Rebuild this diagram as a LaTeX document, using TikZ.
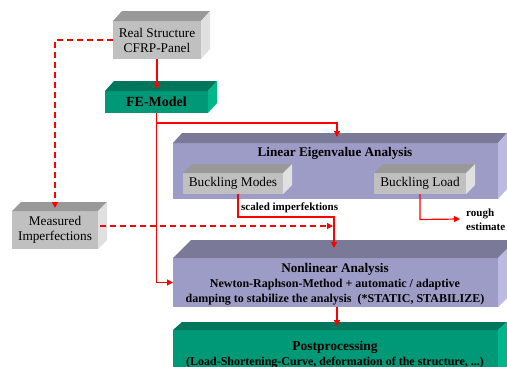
\documentclass[tikz,border=0pt]{standalone}
\usepackage{fontspec}
\setmainfont{Liberation Serif}
\usetikzlibrary{arrows.meta,calc}

\definecolor{grayfront}{RGB}{192,192,192}
\definecolor{graytop}{RGB}{153,153,153}
\definecolor{grayside}{RGB}{224,224,224}
\definecolor{greenfront}{RGB}{0,153,119}
\definecolor{greentop}{RGB}{0,118,92}
\definecolor{greenside}{RGB}{0,182,138}
\definecolor{lilafront}{RGB}{156,156,198}
\definecolor{lilatop}{RGB}{122,122,152}
\definecolor{lilaside}{RGB}{186,186,226}

% top and right face of a block: node, depth, top colour, side colour
\newcommand\blockfaces[4]{%
  \fill[#3] (#1.north west) -- ++(#2) -- ($(#1.north east)+(#2)$) -- (#1.north east) -- cycle;
  \fill[#4] (#1.north east) -- ++(#2) -- ($(#1.south east)+(#2)$) -- (#1.south east) -- cycle;
}

\begin{document}
\begin{tikzpicture}[x=1pt, y=-1pt,
  block/.style={rectangle, inner sep=0pt, outer sep=0pt, align=center},
  grayblock/.style={block, fill=grayfront, font=\fontsize{13.3}{15}\selectfont},
  greenblock/.style={block, fill=greenfront, font=\bfseries\fontsize{14}{15}\selectfont},
  lilablock/.style={block, fill=lilafront},
  title/.style={font=\bfseries\fontsize{12}{15}\selectfont, align=center, inner sep=0pt},
  lbl/.style={font=\bfseries\fontsize{11}{14}\selectfont, align=left, inner sep=0pt},
  ar/.style={-{Triangle[length=6pt,width=6pt]}, draw=red, line width=1.2pt},
  dar/.style={ar, dash pattern=on 6pt off 4pt},
]
\clip (0,0) rectangle (507,367);
\fill[white] (0,0) rectangle (507,367);

%-- blocks ----------------------------------------------------------------
\node[grayblock, minimum width=88pt, minimum height=38pt] (real) at (157,40)
  {Real Structure\\CFRP-Panel};
\blockfaces{real}{9,-10}{graytop}{grayside}

\node[greenblock, minimum width=103pt, minimum height=22pt] (fe) at (156.5,102)
  {FE-Model};
\blockfaces{fe}{9,-10}{greentop}{greenside}

\node[lilablock, minimum width=325pt, minimum height=56pt] (lin) at (335.5,171) {};
\blockfaces{lin}{9,-10}{lilatop}{lilaside}
\node[title, font=\bfseries\fontsize{13.2}{15}\selectfont] (lintitle) at (335,153)
  {Linear Eigenvalue Analysis};

\node[grayblock, minimum width=100pt, minimum height=21pt] (modes) at (233,183.5)
  {Buckling Modes};
\blockfaces{modes}{9,-9}{graytop}{grayside}
\node[grayblock, minimum width=92pt, minimum height=21pt] (load) at (420,183.5)
  {Buckling Load};
\blockfaces{load}{9,-9}{graytop}{grayside}

\node[grayblock, minimum width=86pt, minimum height=38pt] (meas) at (55,230)
  {Measured\\Imperfections};
\blockfaces{meas}{9,-9}{graytop}{grayside}

\node[lilablock, minimum width=325pt, minimum height=49pt] (nonlin) at (335.5,282.5) {};
\blockfaces{nonlin}{18,-18}{lilatop}{lilaside}
\node[title] (nontitle) at (335,284)
  {{\fontsize{13.2}{15}\selectfont Nonlinear Analysis}\\
   Newton-Raphson-Method + automatic / adaptive\\
   damping to stabilize the analysis~~(*STATIC, STABILIZE)};

\node[greenblock, minimum width=325pt, minimum height=50pt] (post) at (335.5,355) {};
\blockfaces{post}{9,-8}{greentop}{greenside}
\node[title] (posttitle) at (335,354.5)
  {{\fontsize{13.5}{15}\selectfont Postprocessing}\\
   (Load-Shortening-Curve, deformation of the structure, ...)};

%-- connectors ------------------------------------------------------------
\coordinate (fein)    at (157,89);
\coordinate (linin)   at (337,137);
\coordinate (measin)  at (55,208);
\coordinate (join)    at (333,226);
\coordinate (nonin)   at (334,248);
\coordinate (loadout) at (460,219);
\coordinate (postin)  at (337,326);

\draw[ar] (real.south) -- (fein);
\draw[ar] (fe.south) -- ++(0,10) -| (linin);
\draw[ar] (fe.south) |- (nonlin.west);
\draw[dar] (real.west) -| (measin);
\draw[dar] ($(meas.east)+(2,-4)$) -- (join);
\draw[ar] ($(modes.south)+(5,0)$) -- ++(0,23) -| (nonin);
\node[lbl, anchor=west] (scaled) at (241,208) {scaled imperfektions};
\draw[ar] (load.south) -- ++(0,25.5) -- (loadout);
\node[lbl, anchor=west] (rough) at (466,220) {rough\\estimate};
\draw[ar] (postin |- nonlin.south) -- (postin);

\end{tikzpicture}
\end{document}
